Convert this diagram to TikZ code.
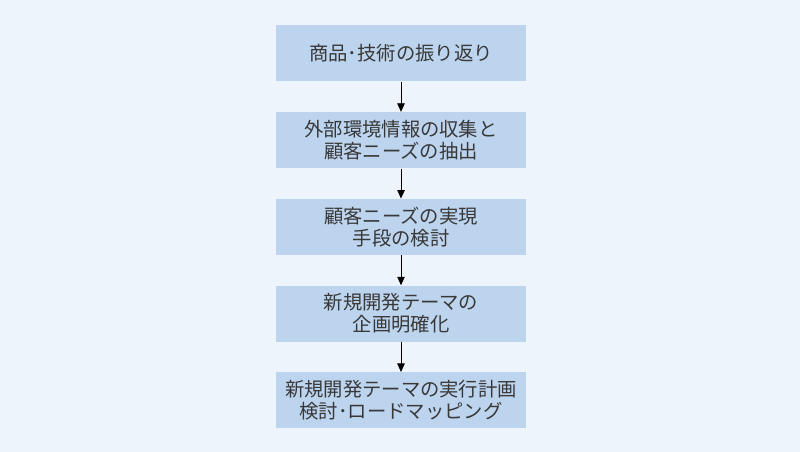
\documentclass[tikz,border=0pt]{standalone}
\usepackage{fontspec}
\usepackage{tikz}
\usetikzlibrary{arrows.meta,positioning}
\newfontfamily\jpfont{Noto Sans CJK JP}
\definecolor{bgpale}{HTML}{EEF4FB}
\definecolor{stepfill}{HTML}{BDD4EE}
\definecolor{textgray}{HTML}{383838}

\begin{document}
\begin{tikzpicture}[font=\jpfont\fontsize{11}{12.5}\selectfont, >={Triangle[length=1.7mm,width=1.5mm]},
  stagebox/.style={fill=stepfill, text=textgray, minimum width=5cm, minimum height=1.12cm,
    inner sep=0pt, align=center},
  node distance=0.6cm]
  % background
  \fill[bgpale] (0,0) rectangle (16,9.04);
  \useasboundingbox (0,0) rectangle (16,9.04);
  % process steps
  \node[stagebox] (review) at (8.02,7.97) {商品･技術の振り返り};
  \node[stagebox, below=of review] (needs) {外部環境情報の収集と\\顧客ニーズの抽出};
  \node[stagebox, below=of needs] (means) {顧客ニーズの実現\\手段の検討};
  \node[stagebox, below=of means] (theme) {新規開発テーマの\\企画明確化};
  \node[stagebox, below=of theme] (plan) {新規開発テーマの実行計画\\検討･ロードマッピング};
  % arrows
  \foreach \a/\b in {review/needs,needs/means,means/theme,theme/plan}
    \draw[->, thin] (\a) -- (\b);
\end{tikzpicture}
\end{document}
